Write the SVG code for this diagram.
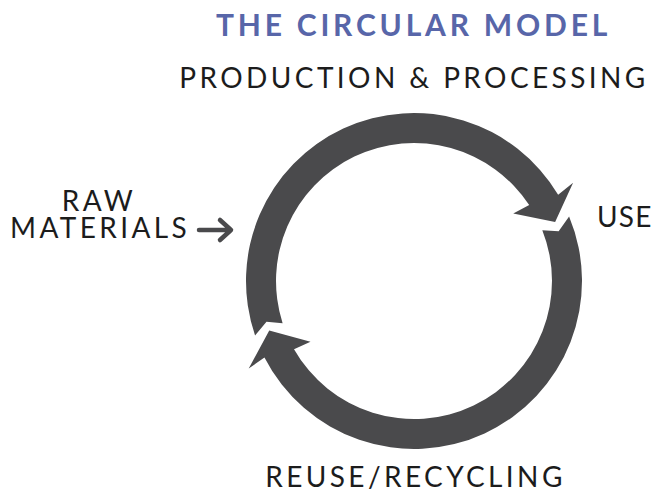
<svg xmlns="http://www.w3.org/2000/svg" width="653" height="492" viewBox="0 0 653 492">
  <style>
    .title { font-family: Lato, "Liberation Sans", sans-serif; font-weight: 700; font-size: 30px; fill: #5866a9; letter-spacing: 3.8px; }
    .label { font-family: Lato, "Liberation Sans", sans-serif; font-weight: 400; font-size: 28px; fill: #1c1c1c; letter-spacing: 3.4px; }
    .cycle { fill: #4a4a4c; }
    .pointer { fill: none; stroke: #4a4a4c; stroke-width: 4.5; stroke-linecap: round; stroke-linejoin: round; }
  </style>
  <rect width="653" height="492" fill="#ffffff"/>

  <g id="title">
    <text class="title" x="413.5" y="36" text-anchor="middle">THE CIRCULAR MODEL</text>
  </g>

  <g id="production">
    <text class="label" x="414" y="88" text-anchor="middle">PRODUCTION &amp; PROCESSING</text>
  </g>

  <g id="use">
    <text class="label" x="597" y="227" style="letter-spacing:1.2px">USE</text>
  </g>

  <g id="reuse">
    <text class="label" x="415.5" y="487" text-anchor="middle">REUSE/RECYCLING</text>
  </g>

  <g id="raw-materials">
    <text class="label"><tspan x="99" y="211" text-anchor="middle">RAW</tspan><tspan x="10" y="238">MATERIALS</tspan></text>
  </g>

  <g id="connectors">
    <!-- input arrow into the cycle -->
    <path class="pointer" d="M199 230 H230 M220 220 L231 230 L220 240"/>
    <!-- upper arc: raw materials through production to use -->
    <path class="cycle" d="M255.06 335.42 A168 168 0 0 1 558.16 194.73 L573.10 182.73 L555.14 221.96 L513.25 213.55 L529.20 205.03 A138 138 0 0 0 282.61 323.19 L266.49 321.64 Z"/>
    <!-- lower arc: use through reuse back to the start -->
    <path class="cycle" d="M569.10 216.44 A168 168 0 0 1 264.45 357.54 L248.73 368.50 L269.25 330.56 L310.50 341.72 L294.01 349.16 A138 138 0 0 0 542.31 230.20 L558.66 231.18 Z"/>
  </g>
</svg>
